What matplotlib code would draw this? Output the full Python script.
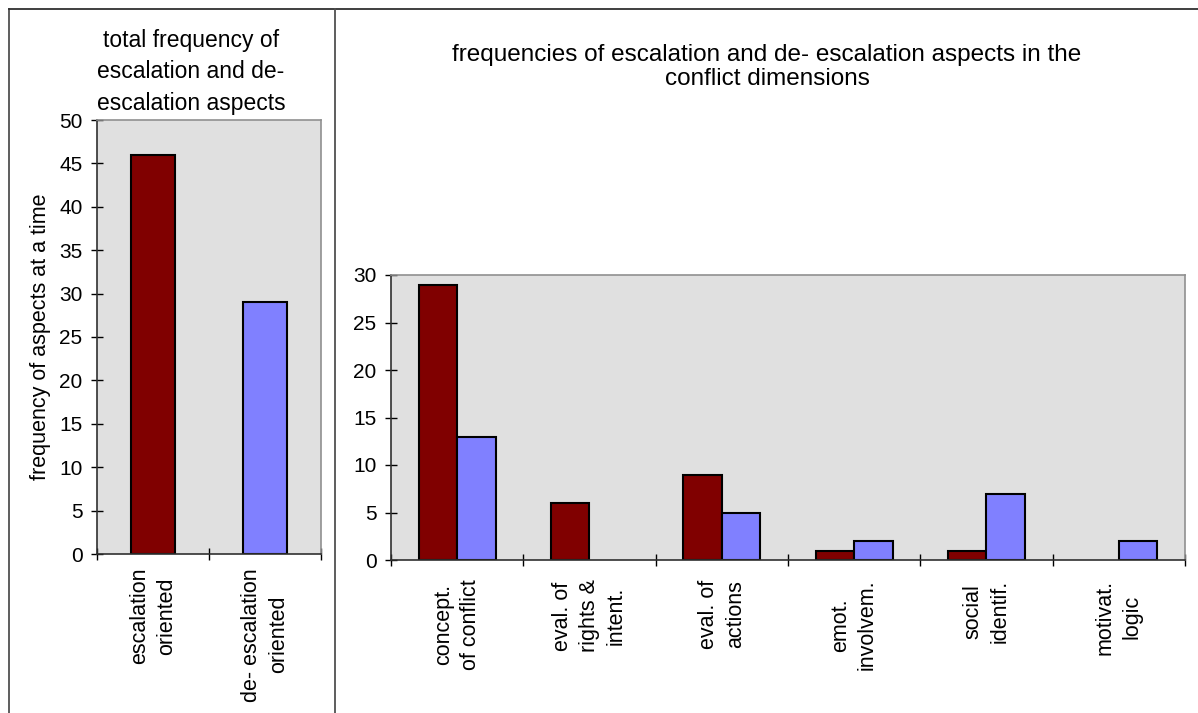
import matplotlib.pyplot as plt
from matplotlib.lines import Line2D
import numpy as np

plt.rcParams['font.family'] = ['Liberation Sans', 'DejaVu Sans']
plt.rcParams['font.size'] = 15.5

# data
total_labels = ["escalation\noriented", "de- escalation\noriented"]
total_values = [46, 29]
total_colors = ["#800000", "#8080ff"]

dim_labels = ["concept.\nof conflict", "eval. of\nrights &\nintent.", "eval. of\nactions",
              "emot.\ninvolvem.", "social\nidentif.", "motivat.\nlogic"]
escalation = [29, 6, 9, 1, 1, 0]
deescalation = [13, 0, 5, 2, 7, 2]

W, H = 1198, 713
fig = plt.figure(figsize=(W / 100, H / 100), dpi=100)

# frame lines around the panels
fig.add_artist(Line2D([9 / W, 9 / W], [0, 1 - 9 / H], color="#505050", lw=1.3))
fig.add_artist(Line2D([9 / W, 1], [1 - 9 / H, 1 - 9 / H], color="#303030", lw=1.3))
fig.add_artist(Line2D([335 / W, 335 / W], [0, 1 - 9 / H], color="#505050", lw=1.3))


def style_axes(ax):
    ax.set_facecolor("#e0e0e0")
    ax.spines["top"].set_color("#909090")
    ax.spines["right"].set_color("#909090")
    ax.spines["left"].set_color("#303030")
    ax.spines["bottom"].set_color("#303030")
    for s in ax.spines.values():
        s.set_linewidth(1.2)
    ax.tick_params(axis="y", direction="inout", length=9, width=1, pad=6, labelsize=15)
    ax.tick_params(axis="x", which="major", length=0, pad=10)
    ax.tick_params(axis="x", which="minor", direction="inout", length=9, width=1)
    for lab in ax.get_xticklabels():
        lab.set_linespacing(1.35)


def edge_widths(values):
    # zero-height bars show no outline in the original
    return [1.5 if v > 0 else 0 for v in values]


# left panel
ax1 = fig.add_axes([97 / W, 1 - 554 / H, 224 / W, 434 / H])
x1 = np.arange(len(total_values))
ax1.bar(x1, total_values, width=0.4, color=total_colors, edgecolor="black", linewidth=1.5)
ax1.set_xlim(-0.5, len(total_values) - 0.5)
ax1.set_ylim(0, 50)
ax1.set_yticks(np.arange(0, 51, 5))
ax1.set_xticks(x1)
ax1.set_xticklabels(total_labels, rotation=90, ha="center", va="top", multialignment="center")
ax1.set_xticks(np.arange(-0.5, len(total_values), 1), minor=True)
ax1.set_ylabel("frequency of aspects at a time", labelpad=6)
style_axes(ax1)
fig.text(191 / W, 1 - 72 / H, "total frequency of\nescalation and de-\nescalation aspects",
         ha="center", va="center", linespacing=1.45, fontsize=16.5)

# right panel
ax2 = fig.add_axes([391 / W, 1 - 560 / H, 794 / W, 285 / H])
x2 = np.arange(len(dim_labels))
bw = 0.29
ax2.bar(x2 - bw / 2, escalation, width=bw, color="#800000", edgecolor="black",
        linewidth=edge_widths(escalation))
ax2.bar(x2 + bw / 2, deescalation, width=bw, color="#8080ff", edgecolor="black",
        linewidth=edge_widths(deescalation))
ax2.set_xlim(-0.5, len(dim_labels) - 0.5)
ax2.set_ylim(0, 30)
ax2.set_yticks(np.arange(0, 31, 5))
ax2.set_xticks(x2)
ax2.set_xticklabels(dim_labels, rotation=90, ha="center", va="top", multialignment="center")
ax2.set_xticks(np.arange(-0.5, len(dim_labels), 1), minor=True)
style_axes(ax2)
ax2.tick_params(axis="x", which="major", pad=14)
fig.text(767 / W, 1 - 67 / H, "frequencies of escalation and de- escalation aspects in the\nconflict dimensions",
         ha="center", va="center", linespacing=1.15, fontsize=17.5)

fig.savefig("out.png", dpi=100, facecolor="white")
